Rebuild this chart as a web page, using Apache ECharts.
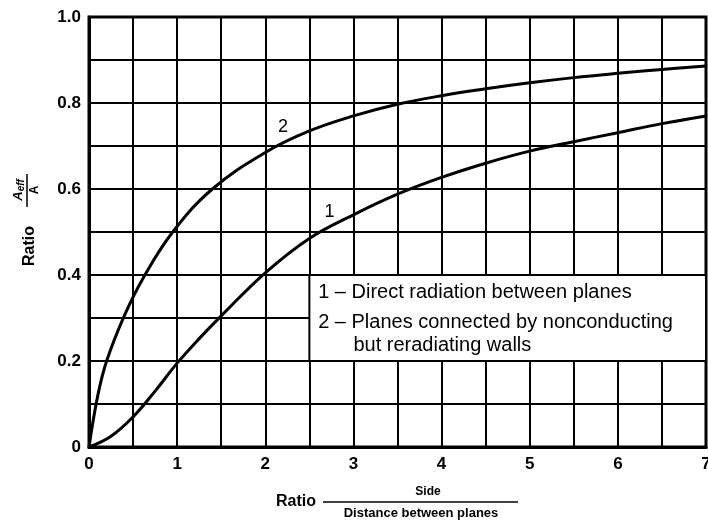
<!DOCTYPE html>
<html>
<head>
<meta charset="utf-8">
<script src="https://cdn.jsdelivr.net/npm/echarts@6/dist/echarts.min.js"></script>
<style>html,body{margin:0;padding:0;background:#fff}#c{width:708px;height:521px}</style>
</head>
<body>
<div id="c"></div>
<script>
// Curve 1: direct radiation between planes
var x1 = [0, 0.25, 0.5, 0.75, 1.0, 1.25, 1.5, 2.0, 2.5, 3.0, 3.5, 4.0, 4.5, 5.0, 5.5, 6.0, 6.5, 7.0];
var y1 = [0, 0.025, 0.07, 0.13, 0.195, 0.252, 0.305, 0.405, 0.485, 0.54, 0.588, 0.627, 0.66, 0.688, 0.71, 0.731, 0.752, 0.77];
// Curve 2: planes connected by nonconducting but reradiating walls
var x2 = [0, 0.1, 0.2, 0.4, 0.62, 0.95, 1.4, 2.0, 2.5, 3.0, 3.5, 4.0, 4.5, 5.0, 5.5, 6.0, 6.5, 7.0];
var y2 = [0, 0.12, 0.2, 0.305, 0.395, 0.5, 0.6, 0.685, 0.735, 0.77, 0.797, 0.817, 0.833, 0.847, 0.859, 0.869, 0.878, 0.886];
var xTicks = [0, 1, 2, 3, 4, 5, 6, 7];
var yTicks = [0, 0.2, 0.4, 0.6, 0.8, 1.0];
var legendLines = ['1 \u2013 Direct radiation between planes', '2 \u2013 Planes connected by nonconducting', 'but reradiating walls'];
var curveLabels = ['1', '2'];

function pairs(xs, ys) { return xs.map(function (x, i) { return [x, ys[i]]; }); }

var FONT = 'Liberation Sans';
var chart = echarts.init(document.getElementById('c'));
var option = {
  animation: false,
  backgroundColor: '#fff',
  grid: { left: 89, right: 2, top: 17, bottom: 74, show: true, borderColor: '#000', borderWidth: 3, outerBoundsMode: 'none', containLabel: false },
  xAxis: {
    type: 'value', min: xTicks[0], max: xTicks[xTicks.length - 1], interval: 1,
    axisLine: { show: true, lineStyle: { color: '#000', width: 3 } },
    axisTick: { show: false },
    minorTick: { show: false, splitNumber: 2 },
    splitLine: { show: true, lineStyle: { color: '#000', width: 2 } },
    minorSplitLine: { show: true, lineStyle: { color: '#000', width: 2 } },
    axisLabel: { color: '#000', fontFamily: FONT, fontWeight: 'bold', fontSize: 17, margin: 9 }
  },
  yAxis: {
    type: 'value', min: yTicks[0], max: yTicks[yTicks.length - 1], interval: 0.2,
    axisLine: { show: true, lineStyle: { color: '#000', width: 3 } },
    axisTick: { show: false },
    minorTick: { show: false, splitNumber: 2 },
    splitLine: { show: true, lineStyle: { color: '#000', width: 2 } },
    minorSplitLine: { show: true, lineStyle: { color: '#000', width: 2 } },
    axisLabel: {
      color: '#000', fontFamily: FONT, fontWeight: 'bold', fontSize: 17, margin: 8,
      formatter: function (v) { return v === 0 ? '0' : v.toFixed(1); }
    }
  },
  series: [
    {
      type: 'line', name: '1', data: pairs(x1, y1), smooth: 0.4, showSymbol: false,
      lineStyle: { color: '#000', width: 3 }, z: 5,
      markArea: {
        silent: true,
        itemStyle: { color: '#fff', borderColor: '#000', borderWidth: 2 },
        data: [[{ coord: [2.5, 0.4] }, { coord: [7, 0.2] }]]
      }
    },
    {
      type: 'line', name: '2', data: pairs(x2, y2), smooth: 0.4, showSymbol: false,
      lineStyle: { color: '#000', width: 3 }, z: 5
    }
  ]
};
chart.setOption(option);

function px(x, y) { return chart.convertToPixel({ gridIndex: 0 }, [x, y]); }
var p1 = px(2.73, 0.547), p2 = px(2.20, 0.744);
var l1 = px(2.6, 0.36), l2 = px(2.6, 0.29), l3 = px(3.0, 0.235);
var txt = function (pos, s, size, weight, align) {
  return { type: 'text', x: pos[0], y: pos[1], z: 100,
    style: { text: s, fill: '#000', font: (weight || 'normal') + ' ' + size + 'px "' + FONT + '"',
      align: align || 'center', verticalAlign: 'middle' } };
};
chart.setOption({
  graphic: [
    txt(p1, curveLabels[0], 18, 'normal'),
    txt(p2, curveLabels[1], 18, 'normal'),
    txt(l1, legendLines[0], 20, 'normal', 'left'),
    txt(l2, legendLines[1], 20, 'normal', 'left'),
    txt(l3, legendLines[2], 20, 'normal', 'left'),
    // x axis name
    txt([296, 502], 'Ratio', 16, 'bold'),
    txt([428, 492], 'Side', 12, 'bold'),
    { type: 'line', z: 100, shape: { x1: 323, y1: 502, x2: 518, y2: 502 }, style: { stroke: '#000', lineWidth: 1.5 } },
    txt([421, 513], 'Distance between planes', 13, 'bold'),
    // y axis name (rotated)
    {
      type: 'group', x: 27, y: 215, rotation: Math.PI / 2, z: 100,
      children: [
        { type: 'text', x: -31, y: 3, style: { text: 'Ratio', fill: '#000', font: 'bold 16px "' + FONT + '"', align: 'center', verticalAlign: 'middle' } },
        { type: 'line', shape: { x1: 8, y1: 0, x2: 41, y2: 0 }, style: { stroke: '#000', lineWidth: 1.5 } },
        { type: 'text', x: 25, y: -9, style: { text: '{a|A}{s|eff}', align: 'center', verticalAlign: 'middle',
            rich: { a: { fill: '#000', font: 'bold italic 13px "' + FONT + '"' },
                    s: { fill: '#000', font: 'bold italic 10px "' + FONT + '"', padding: [6, 0, 0, 0] } } } },
        { type: 'text', x: 25, y: 8, style: { text: 'A', fill: '#000', font: 'bold 12px "' + FONT + '"', align: 'center', verticalAlign: 'middle' } }
      ]
    }
  ]
});
</script>
</body>
</html>
